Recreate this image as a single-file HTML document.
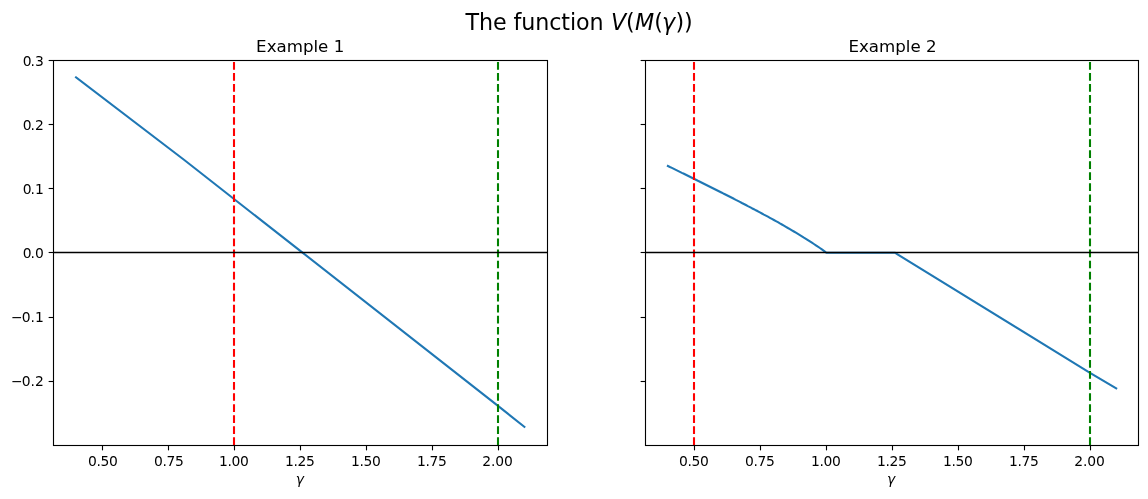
<!DOCTYPE html>
<html lang="en"><head><meta charset="utf-8"><title>The function V(M(γ))</title>
<style>html,body{margin:0;padding:0;background:#fff;}body{width:1148px;height:499px;overflow:hidden;}svg{display:block;}text{font-family:"DejaVu Sans", "Liberation Sans", sans-serif;fill:#000;}.tk{font-size:13.89px;}.tt{font-size:16.67px;}.st{font-size:22.22px;}.it{font-style:italic;}</style></head><body>
<svg width="1148" height="499" viewBox="0 0 1148 499">
<rect x="0" y="0" width="1148" height="499" fill="#ffffff"/>
<g>
<polyline points="76.0,77.4 184.3,160.0 234.0,199.0 302.5,252.6 498.0,405.9 524.4,426.8" fill="none" stroke="#1f77b4" stroke-width="2.08" stroke-linejoin="round" stroke-linecap="square"/>
<line x1="234.0" y1="445.0" x2="234.0" y2="60.0" stroke="#ff0000" stroke-width="2.08" stroke-dasharray="7.71 3.33"/>
<line x1="498.0" y1="445.0" x2="498.0" y2="60.0" stroke="#008000" stroke-width="2.08" stroke-dasharray="7.71 3.33"/>
<line x1="53.5" y1="252.5" x2="547.5" y2="252.5" stroke="#000" stroke-width="1.39"/>
<line x1="48.64" y1="60.5" x2="53.50" y2="60.5" stroke="#000" stroke-width="1.11"/>
<line x1="48.64" y1="124.5" x2="53.50" y2="124.5" stroke="#000" stroke-width="1.11"/>
<line x1="48.64" y1="188.5" x2="53.50" y2="188.5" stroke="#000" stroke-width="1.11"/>
<line x1="48.64" y1="252.5" x2="53.50" y2="252.5" stroke="#000" stroke-width="1.11"/>
<line x1="48.64" y1="317.5" x2="53.50" y2="317.5" stroke="#000" stroke-width="1.11"/>
<line x1="48.64" y1="381.5" x2="53.50" y2="381.5" stroke="#000" stroke-width="1.11"/>
<line x1="102.5" y1="445.5" x2="102.5" y2="450.36" stroke="#000" stroke-width="1.11"/>
<line x1="168.5" y1="445.5" x2="168.5" y2="450.36" stroke="#000" stroke-width="1.11"/>
<line x1="234.5" y1="445.5" x2="234.5" y2="450.36" stroke="#000" stroke-width="1.11"/>
<line x1="300.5" y1="445.5" x2="300.5" y2="450.36" stroke="#000" stroke-width="1.11"/>
<line x1="366.5" y1="445.5" x2="366.5" y2="450.36" stroke="#000" stroke-width="1.11"/>
<line x1="432.5" y1="445.5" x2="432.5" y2="450.36" stroke="#000" stroke-width="1.11"/>
<line x1="498.5" y1="445.5" x2="498.5" y2="450.36" stroke="#000" stroke-width="1.11"/>
<rect x="53.5" y="60.5" width="494.0" height="385.0" fill="none" stroke="#000" stroke-width="1.11"/>
<text class="tk" x="43.8" y="65.8" text-anchor="end"><tspan letter-spacing="-1.15">0</tspan>.3</text>
<text class="tk" x="43.8" y="129.8" text-anchor="end"><tspan letter-spacing="-1.15">0</tspan>.2</text>
<text class="tk" x="43.8" y="193.8" text-anchor="end"><tspan letter-spacing="-1.15">0</tspan>.1</text>
<text class="tk" x="43.8" y="257.8" text-anchor="end"><tspan letter-spacing="-1.15">0</tspan>.0</text>
<text class="tk" x="43.8" y="321.8" text-anchor="end"><tspan letter-spacing="-1">−</tspan>0.1</text>
<text class="tk" x="43.8" y="385.8" text-anchor="end"><tspan letter-spacing="-1">−</tspan>0.2</text>
<text class="tk" x="102.83" y="466.0" text-anchor="middle" letter-spacing="-0.33">0.50</text>
<text class="tk" x="168.83" y="466.0" text-anchor="middle" letter-spacing="-0.33">0.75</text>
<text class="tk" x="233.83" y="466.0" text-anchor="middle" letter-spacing="-0.33">1.00</text>
<text class="tk" x="299.83" y="466.0" text-anchor="middle" letter-spacing="-0.33">1.25</text>
<text class="tk" x="365.83" y="466.0" text-anchor="middle" letter-spacing="-0.33">1.50</text>
<text class="tk" x="431.83" y="466.0" text-anchor="middle" letter-spacing="-0.33">1.75</text>
<text class="tk" x="497.48" y="466.0" text-anchor="middle" letter-spacing="-0.10">2.00</text>
<text class="tt" x="300.2" y="52.0" text-anchor="middle">Example 1</text>
<text class="tk it" x="299.9" y="484.0" text-anchor="middle">γ</text>
</g>
<g>
<polyline points="667.9,166.0 669.9,167.0 671.9,167.9 673.9,168.9 675.9,169.9 677.9,170.9 679.9,171.9 681.9,172.9 683.9,173.8 685.9,174.8 687.9,175.8 689.9,176.8 691.9,177.8 693.9,178.8 695.9,179.8 697.9,180.8 699.9,181.7 701.9,182.7 703.9,183.7 705.9,184.7 707.9,185.7 709.9,186.7 711.9,187.7 713.9,188.7 715.9,189.7 717.9,190.7 719.9,191.7 721.9,192.7 723.9,193.8 725.9,194.8 727.9,195.8 729.9,196.8 731.9,197.8 733.9,198.8 735.9,199.9 737.9,200.9 739.9,201.9 741.9,203.0 743.9,204.0 745.9,205.0 747.9,206.1 749.9,207.1 751.9,208.2 753.9,209.2 755.9,210.3 757.9,211.3 759.9,212.4 761.9,213.5 763.9,214.6 765.9,215.6 767.9,216.7 769.9,217.8 771.9,218.9 773.9,220.0 775.9,221.1 777.9,222.2 779.9,223.4 781.9,224.5 783.9,225.6 785.9,226.8 787.9,228.0 789.9,229.1 791.9,230.3 793.9,231.5 795.9,232.7 797.9,233.9 799.9,235.1 801.9,236.3 803.9,237.6 805.9,238.8 807.9,240.1 809.9,241.4 811.9,242.7 813.9,244.0 815.9,245.3 817.9,246.7 819.9,248.0 821.9,249.4 823.9,250.8 825.9,252.3 826.5,252.7 894.8,252.7 1090.0,372.8 1116.2,388.4" fill="none" stroke="#1f77b4" stroke-width="2.08" stroke-linejoin="round" stroke-linecap="square"/>
<line x1="694.0" y1="445.0" x2="694.0" y2="60.0" stroke="#ff0000" stroke-width="2.08" stroke-dasharray="7.71 3.33"/>
<line x1="1090.0" y1="445.0" x2="1090.0" y2="60.0" stroke="#008000" stroke-width="2.08" stroke-dasharray="7.71 3.33"/>
<line x1="645.5" y1="252.5" x2="1138.5" y2="252.5" stroke="#000" stroke-width="1.39"/>
<line x1="640.64" y1="60.5" x2="645.50" y2="60.5" stroke="#000" stroke-width="1.11"/>
<line x1="640.64" y1="124.5" x2="645.50" y2="124.5" stroke="#000" stroke-width="1.11"/>
<line x1="640.64" y1="188.5" x2="645.50" y2="188.5" stroke="#000" stroke-width="1.11"/>
<line x1="640.64" y1="252.5" x2="645.50" y2="252.5" stroke="#000" stroke-width="1.11"/>
<line x1="640.64" y1="317.5" x2="645.50" y2="317.5" stroke="#000" stroke-width="1.11"/>
<line x1="640.64" y1="381.5" x2="645.50" y2="381.5" stroke="#000" stroke-width="1.11"/>
<line x1="694.5" y1="445.5" x2="694.5" y2="450.36" stroke="#000" stroke-width="1.11"/>
<line x1="760.5" y1="445.5" x2="760.5" y2="450.36" stroke="#000" stroke-width="1.11"/>
<line x1="826.5" y1="445.5" x2="826.5" y2="450.36" stroke="#000" stroke-width="1.11"/>
<line x1="892.5" y1="445.5" x2="892.5" y2="450.36" stroke="#000" stroke-width="1.11"/>
<line x1="958.5" y1="445.5" x2="958.5" y2="450.36" stroke="#000" stroke-width="1.11"/>
<line x1="1024.5" y1="445.5" x2="1024.5" y2="450.36" stroke="#000" stroke-width="1.11"/>
<line x1="1090.5" y1="445.5" x2="1090.5" y2="450.36" stroke="#000" stroke-width="1.11"/>
<rect x="645.5" y="60.5" width="493.0" height="385.0" fill="none" stroke="#000" stroke-width="1.11"/>
<text class="tk" x="693.83" y="466.0" text-anchor="middle" letter-spacing="-0.33">0.50</text>
<text class="tk" x="759.83" y="466.0" text-anchor="middle" letter-spacing="-0.33">0.75</text>
<text class="tk" x="825.83" y="466.0" text-anchor="middle" letter-spacing="-0.33">1.00</text>
<text class="tk" x="891.83" y="466.0" text-anchor="middle" letter-spacing="-0.33">1.25</text>
<text class="tk" x="957.83" y="466.0" text-anchor="middle" letter-spacing="-0.33">1.50</text>
<text class="tk" x="1023.83" y="466.0" text-anchor="middle" letter-spacing="-0.33">1.75</text>
<text class="tk" x="1089.48" y="466.0" text-anchor="middle" letter-spacing="-0.10">2.00</text>
<text class="tt" x="892.5" y="52.0" text-anchor="middle">Example 2</text>
<text class="tk it" x="891.0" y="484.0" text-anchor="middle">γ</text>
</g>
<text class="st" x="465.4" y="29.5" letter-spacing="-0.08">The function <tspan class="it" dx="0.4">V</tspan>(<tspan class="it" dx="0.4">M</tspan>(<tspan class="it" dx="-0.7">γ</tspan><tspan dx="0.3">))</tspan></text>
</svg></body></html>
